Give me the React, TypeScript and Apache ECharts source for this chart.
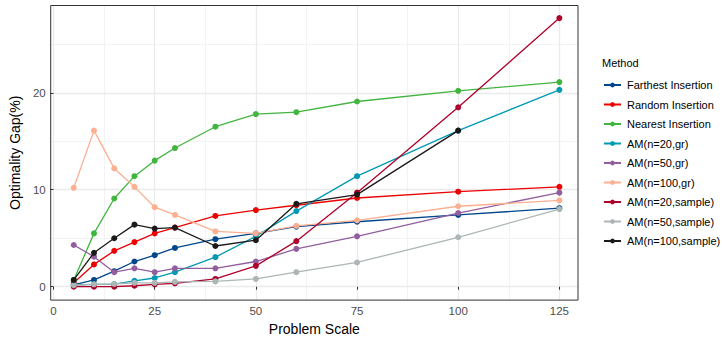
import React, { useEffect, useRef } from "react";
import * as echarts from "echarts";

const scales = [5, 10, 15, 20, 25, 30, 40, 50, 60, 75, 100, 125];
const farthest = [0.2, 0.7, 1.6, 2.6, 3.25, 4.0, 4.9, 5.5, 6.2, 6.7, 7.4, 8.1];
const randomIns = [0.4, 2.3, 3.7, 4.6, 5.5, 6.1, 7.3, 7.9, 8.4, 9.15, 9.8, 10.3];
const nearest = [0.7, 5.5, 9.1, 11.4, 13.0, 14.3, 16.5, 17.8, 18.0, 19.1, 20.2, 21.1];
const am20gr = [0.2, 0.24, 0.27, 0.6, 0.9, 1.5, 3.05, 5.2, 7.8, 11.4, 16.1, 20.3];
const am50gr = [4.3, 3.1, 1.5, 1.9, 1.5, 1.9, 1.9, 2.6, 3.9, 5.2, 7.6, 9.7];
const am100gr = [10.2, 16.1, 12.2, 10.3, 8.2, 7.4, 5.7, 5.5, 6.27, 6.85, 8.3, 8.9];
const am20sample = [0.0, 0.0, 0.0, 0.1, 0.25, 0.35, 0.8, 2.15, 4.7, 9.7, 18.5, 27.7];
const am50sample = [0.15, 0.25, 0.28, 0.4, 0.4, 0.5, 0.55, 0.8, 1.5, 2.5, 5.1, 8.0];
const am100sample = [0.7, 3.5, 5.0, 6.4, 6.0, 6.1, 4.2, 4.8, 8.55, 9.5, 16.1, null];

const methodNames = [
  "Farthest Insertion",
  "Random Insertion",
  "Nearest Insertion",
  "AM(n=20,gr)",
  "AM(n=50,gr)",
  "AM(n=100,gr)",
  "AM(n=20,sample)",
  "AM(n=50,sample)",
  "AM(n=100,sample)",
];
const methodValues = [farthest, randomIns, nearest, am20gr, am50gr, am100gr, am20sample, am50sample, am100sample];
const methodColors = ["#00468B", "#ED0000", "#42B540", "#0099B4", "#925E9F", "#FDAF91", "#AD002A", "#ADB6B6", "#1B1919"];

const xTicks = [0, 25, 50, 75, 100, 125];
const xMinor = [12.5, 37.5, 62.5, 87.5, 112.5];
const yTicks = [0, 10, 20];
const yMinor = [5, 15, 25];

const FONT = "Liberation Sans, Arial, sans-serif";

export default function App() {
  const ref = useRef<HTMLDivElement>(null);
  useEffect(() => {
    if (!ref.current) return;
    const chart = echarts.init(ref.current, undefined, { renderer: "svg" });
    const gridLines = [
      ...xMinor.map((v) => ({ xAxis: v, lineStyle: { color: "#F0F0F0", width: 0.8, type: "solid" } })),
      ...yMinor.map((v) => ({ yAxis: v, lineStyle: { color: "#F0F0F0", width: 0.8, type: "solid" } })),
      ...xTicks.map((v) => ({ xAxis: v, lineStyle: { color: "#EBEBEB", width: 1.3, type: "solid" } })),
      ...yTicks.map((v) => ({ yAxis: v, lineStyle: { color: "#EBEBEB", width: 1.3, type: "solid" } })),
    ];
    const series: any[] = [
      {
        name: "__grid",
        type: "line",
        data: [],
        silent: true,
        z: 0,
        markLine: {
          silent: true,
          symbol: "none",
          animation: false,
          z: 0,
          label: { show: false },
          data: gridLines,
        },
      },
      ...methodNames.map((name, i) => ({
        name,
        type: "line",
        data: scales.map((s, j) => [s, methodValues[i][j]]).filter((d) => d[1] !== null),
        symbol: "circle",
        symbolSize: 6,
        showSymbol: true,
        itemStyle: { color: methodColors[i] },
        lineStyle: { color: methodColors[i], width: 1.3 },
        z: 2 + i,
      })),
    ];
    chart.setOption({
      animation: false,
      backgroundColor: "#ffffff",
      textStyle: { fontFamily: FONT },
      grid: {
        left: 50.5,
        top: 5.5,
        width: 527.5,
        height: 296,
        show: true,
        borderColor: "#333333",
        borderWidth: 1,
        backgroundColor: "transparent",
        z: 10,
      },
      xAxis: {
        type: "value",
        min: -0.7,
        max: 129.6,
        name: "Problem Scale",
        nameLocation: "middle",
        nameGap: 18,
        nameTextStyle: { fontSize: 14, color: "#000000", fontFamily: FONT },
        axisLine: { show: false },
        axisTick: { show: true, customValues: xTicks, length: 3, lineStyle: { color: "#333333" } },
        axisLabel: { customValues: xTicks, color: "#4D4D4D", fontSize: 11.5, margin: 5, fontFamily: FONT },
        splitLine: { show: false },
      },
      yAxis: {
        type: "value",
        min: -1.38,
        max: 29.0,
        name: "Optimality Gap(%)",
        nameLocation: "middle",
        nameGap: 18,
        nameTextStyle: { fontSize: 14, color: "#000000", fontFamily: FONT },
        axisLine: { show: false },
        axisTick: { show: true, customValues: yTicks, length: 3, lineStyle: { color: "#333333" } },
        axisLabel: { customValues: yTicks, color: "#4D4D4D", fontSize: 11.5, margin: 5, fontFamily: FONT },
        splitLine: { show: false },
      },
      legend: {
        orient: "vertical",
        left: 603,
        top: 78,
        data: methodNames,
        itemWidth: 17,
        itemHeight: 6,
        itemGap: 5.5,
        textStyle: { fontSize: 11, lineHeight: 14, color: "#000000", fontFamily: FONT, padding: [0, 0, 0, 1] },
        padding: 0,
      },
      graphic: [
        {
          type: "text",
          left: 602,
          top: 57,
          style: { text: "Method", fontSize: 11, fill: "#000000", fontFamily: FONT },
        },
      ],
      series,
    });
    return () => chart.dispose();
  }, []);
  return (
    <div
      ref={ref}
      style={{ position: "fixed", left: 0, top: 0, width: 722, height: 341 }}
    />
  );
}
